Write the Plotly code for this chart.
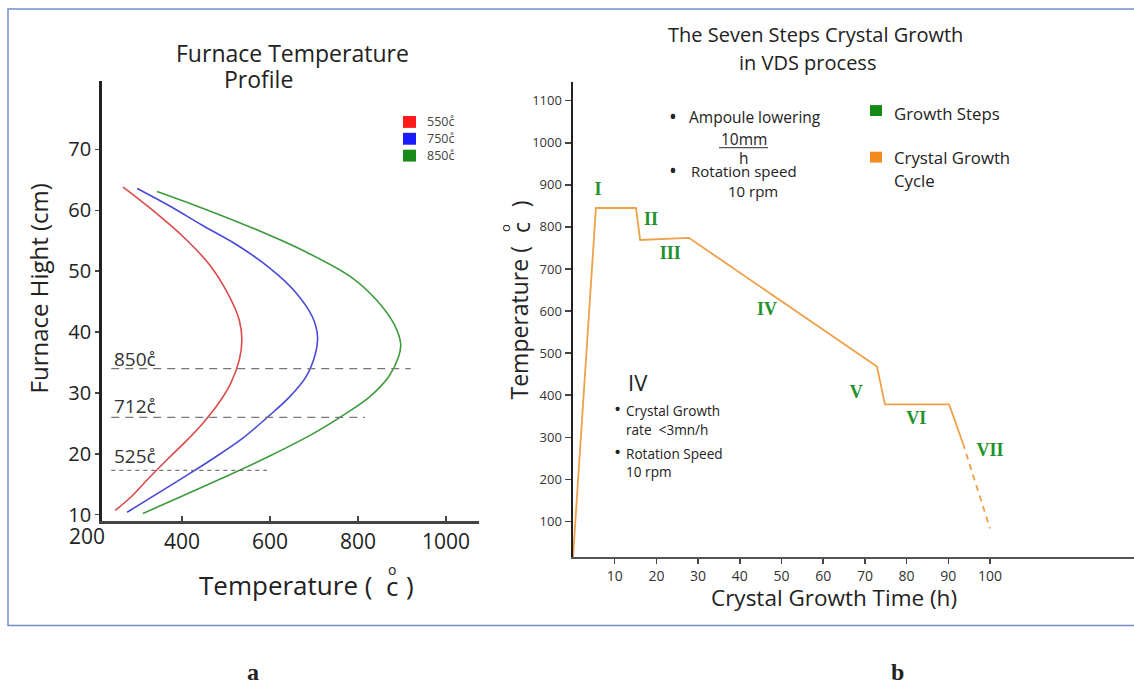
import plotly.graph_objects as go

W, H = 1134, 689

# ---------------- data: panel a (furnace temperature profile) ----------------
red_h = [10.7, 13.0, 15.9, 19.2, 21.8, 25.0, 28.3, 31.5, 35.4, 38.7, 42.0, 46.2, 51.1, 55.5, 59.9, 63.8]
red_temp = [248, 285, 323, 368, 405, 447, 483, 510, 530, 536, 530, 505, 462, 405, 335, 266]

blue_h = [10.4, 15.9, 19.2, 22.4, 26.2, 29.4, 32.7, 36.4, 39.2, 42.4, 46.8, 50.6, 54.3, 57.5, 60.8, 63.6]
blue_temp = [275, 398, 470, 535, 597, 645, 682, 703, 708, 697, 655, 598, 525, 447, 370, 298]

green_h = [10.2, 15.9, 19.6, 23.4, 26.6, 29.4, 32.7, 35.9, 38.0, 41.3, 45.2, 49.0, 53.4, 57.1, 60.4, 63.1]
green_temp = [311, 488, 598, 700, 772, 827, 870, 892, 897, 882, 843, 785, 675, 560, 445, 343]

profile_names = ["550c\u030A", "750c\u030A", "850c\u030A"]

ref_labels = ["850c\u030A", "712c\u030A", "525c\u030A"]
ref_heights = [34.0, 26.0, 17.3]
ref_start_temp = [239, 239, 239]
ref_end_temp = [920, 816, 593]

a_xticks = [400, 600, 800, 1000]
a_yticks = [10, 20, 30, 40, 50, 60, 70]

# ---------------- data: panel b (seven steps crystal growth) ----------------
cycle_time = [0, 5.5, 15.1, 16.1, 27.8, 72.9, 74.8, 90.2, 93.5]
cycle_temp = [15, 845, 845, 769, 774, 468, 378, 378, 286]
cool_time = [93.5, 100]
cool_temp = [286, 83]

steps = ["I", "II", "III", "IV", "V", "VI", "VII"]
step_time = [6.0, 18.7, 23.3, 46.5, 67.9, 82.3, 100]
step_temp = [887, 816, 734, 602, 404, 343, 267]

b_xticks = [10, 20, 30, 40, 50, 60, 70, 80, 90, 100]
b_yticks = [100, 200, 300, 400, 500, 600, 700, 800, 900, 1000, 1100]

FONT = "Open Sans, DejaVu Sans, sans-serif"
ORANGE = "#f0a048"
STEPGREEN = "#22922a"


def px(x):
    return x / W


def py(y):
    return 1 - y / H


fig = go.Figure()

# panel a curves
for t, h, c, n in [(red_temp, red_h, "#dc4a4a", profile_names[0]),
                   (blue_temp, blue_h, "#4a4ad8", profile_names[1]),
                   (green_temp, green_h, "#3c9c3c", profile_names[2])]:
    fig.add_trace(go.Scatter(x=t, y=h, mode="lines", line=dict(color=c, width=1.6, shape="spline", smoothing=1.0),
                             name=n, showlegend=False, hoverinfo="skip", xaxis="x", yaxis="y"))

for i, hgt in enumerate(ref_heights):
    fig.add_trace(go.Scatter(x=[ref_start_temp[i], ref_end_temp[i]], y=[hgt, hgt], mode="lines",
                             line=dict(color="#777777", width=1.2, dash="8px,6px" if i < 2 else "4px,4px"),
                             showlegend=False, hoverinfo="skip", xaxis="x", yaxis="y"))

# panel b line
fig.add_trace(go.Scatter(x=cycle_time, y=cycle_temp, mode="lines", line=dict(color=ORANGE, width=1.8),
                         showlegend=False, hoverinfo="skip", xaxis="x2", yaxis="y2"))
fig.add_trace(go.Scatter(x=cool_time, y=cool_temp, mode="lines", line=dict(color=ORANGE, width=1.8, dash="6px,5px"),
                         showlegend=False, hoverinfo="skip", xaxis="x2", yaxis="y2"))
fig.add_trace(go.Scatter(x=step_time, y=step_temp, mode="text", text=["<b>%s</b>" % s for s in steps],
                         textfont=dict(family="Liberation Serif, serif", size=18, color=STEPGREEN),
                         showlegend=False, hoverinfo="skip", xaxis="x2", yaxis="y2"))

axis_common = dict(showgrid=False, zeroline=False, showline=True, mirror=False)

fig.update_layout(
    width=W, height=H, margin=dict(l=0, r=0, t=0, b=0),
    paper_bgcolor="white", plot_bgcolor="white", showlegend=False,
    font=dict(family=FONT, color="#222222"),
    xaxis=dict(domain=[px(102), px(479)], range=[218, 1075], tickvals=a_xticks,
               ticks="inside", ticklen=5, tickwidth=1.5, tickcolor="#444",
               linecolor="#444", linewidth=2.5, anchor="y",
               tickfont=dict(size=21, color="#222"), **axis_common),
    yaxis=dict(domain=[py(526), py(82)], range=[8.9, 81.2], tickvals=a_yticks,
               ticks="outside", ticklen=4, tickwidth=1.5, tickcolor="#444",
               linecolor="#222", linewidth=2.8, anchor="x",
               tickfont=dict(size=20, color="#222"), **axis_common),
    xaxis2=dict(domain=[px(573), 1.0], range=[0, (W - 573) / 4.17], tickvals=b_xticks,
                ticks="outside", ticklen=5, tickwidth=1.5, tickcolor="#444",
                linecolor="#555", linewidth=2, anchor="y2",
                tickfont=dict(size=14, color="#333"), **axis_common),
    yaxis2=dict(domain=[py(562), py(83)], range=[15.2, 1143.8], tickvals=b_yticks,
                ticks="outside", ticklen=6, tickwidth=1.5, tickcolor="#444",
                linecolor="#222", linewidth=2.5, anchor="x2",
                tickfont=dict(size=13, color="#333"), **axis_common),
)

ann = []


def A(text, x, y, size=14, xanchor="center", color="#222", family=FONT, angle=0, yanchor="middle"):
    ann.append(dict(text=text, x=px(x), y=py(y), xref="paper", yref="paper", xanchor=xanchor,
                    yanchor=yanchor, showarrow=False, textangle=angle,
                    font=dict(size=size, color=color, family=family)))


# ---- panel a texts ----
A("Furnace Temperature", 292, 53, size=23)
A("Profile", 258, 80, size=23)
A("Furnace Hight (cm)", 38, 291, size=24, angle=-90)
A("Temperature (", 374, 590, size=26, xanchor="right")
A("c", 392, 591, size=26)
A(")", 410, 590, size=26)
A("o", 392, 575, size=14)
A("200", 87, 541, size=21)
for lab, hgt in zip(ref_labels, [362, 410, 460]):
    A(lab, 112, hgt, size=19, xanchor="left", color="#333")
leg_colors = ["#ff1a1a", "#1a1aff", "#1a8a1a"]
for i, (name, col) in enumerate(zip(profile_names, leg_colors)):
    yc = 123 + i * 17
    fig.add_shape(type="rect", xref="paper", yref="paper", x0=px(403), x1=px(416),
                  y0=py(yc - 6), y1=py(yc + 6), fillcolor=col, line=dict(width=0))
    A(name, 425, yc, size=12.5, xanchor="left", color="#444")

# ---- panel b texts ----
A("The Seven Steps Crystal Growth", 815, 35, size=20)
A("in VDS process", 807, 63, size=20)
A("Temperature (", 519, 405, size=23, angle=-90, yanchor="bottom")
A("c", 521, 230, size=23, angle=-90)
A(")", 520, 206, size=23, angle=-90)
A("o", 505, 230, size=13, angle=-90)
A("Crystal Growth Time (h)", 834, 603, size=22.5)

A("\u2022", 673, 117, size=21)
A("Ampoule lowering", 687, 118, size=15.5, xanchor="left")
A("10mm", 744, 140, size=15.5)
fig.add_shape(type="line", xref="paper", yref="paper", x0=px(719), x1=px(768), y0=py(149), y1=py(149),
              line=dict(color="#555", width=1.2))
A("h", 744, 159, size=15.5)
A("\u2022", 673, 171, size=21)
A("Rotation speed", 689, 172, size=15, xanchor="left")
A("10 rpm", 753, 193, size=15)

A("IV", 626, 385, size=22, xanchor="left")
A("\u2022", 617, 413, size=19)
A("Crystal Growth", 624, 414, size=13.6, xanchor="left")
A("rate  &lt;3mn/h", 624, 433, size=13.6, xanchor="left")
A("\u2022", 617, 456, size=19)
A("Rotation Speed", 624, 457, size=13.6, xanchor="left")
A("10 rpm", 624, 476, size=13.6, xanchor="left")

fig.add_shape(type="rect", xref="paper", yref="paper", x0=px(870), x1=px(882), y0=py(117), y1=py(106),
              fillcolor="#138a13", line=dict(width=0))
A("Growth Steps", 892, 115, size=16.8, xanchor="left")
fig.add_shape(type="rect", xref="paper", yref="paper", x0=px(870), x1=px(882), y0=py(164), y1=py(153),
              fillcolor="#f58a1e", line=dict(width=0))
A("Crystal Growth", 892, 159, size=16.8, xanchor="left")
A("Cycle", 892, 182, size=16.8, xanchor="left")

# ---- figure labels a / b ----
A("<b>a</b>", 253, 678, size=24, family="Liberation Serif, serif")
A("<b>b</b>", 897, 678, size=24, family="Liberation Serif, serif")

fig.update_layout(annotations=ann)

# outer frame
fig.add_shape(type="rect", xref="paper", yref="paper", x0=px(8), x1=px(1145), y0=py(631), y1=py(9),
              line=dict(color="#7090d0", width=1.5), fillcolor="rgba(0,0,0,0)", layer="below")

fig.write_html("out.html", config={"displayModeBar": False, "staticPlot": True},
               post_script="document.body.style.margin='0px';document.body.style.overflow='hidden';")
